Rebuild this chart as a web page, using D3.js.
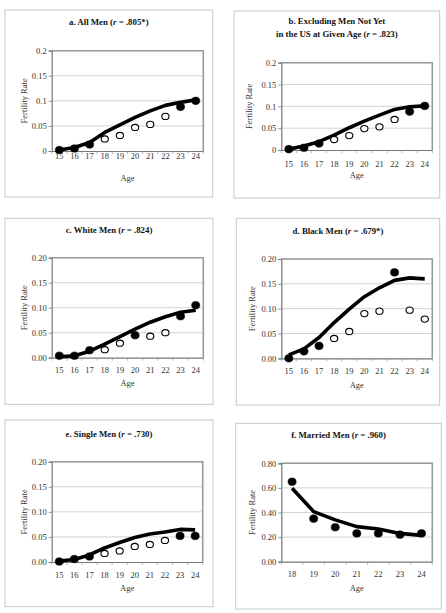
<!DOCTYPE html>
<html><head><meta charset="utf-8">
<script src="https://cdn.jsdelivr.net/npm/d3@7"></script>
<style>
body{margin:0;background:#fff;}
text{font-family:"Liberation Serif","DejaVu Serif",serif;}
</style></head>
<body><svg id="c" width="446" height="613"></svg>
<script>
// ---------- DATA ----------
const agesYoung = [15,16,17,18,19,20,21,22,23,24];
const agesMarried = [18,19,20,21,22,23,24];

const titles = [
  ["a. All Men (r = .805*)"],
  ["b. Excluding  Men Not Yet","in the US at Given Age (r = .823)"],
  ["c. White Men (r = .824)"],
  ["d. Black Men (r = .679*)"],
  ["e. Single Men (r = .730)"],
  ["f. Married Men (r = .960)"]
];

// fitted (line) values
const fitA = [0.002,0.007,0.017,0.037,0.052,0.067,0.080,0.091,0.097,0.102];
const fitB = [0.002,0.009,0.019,0.034,0.051,0.066,0.080,0.093,0.099,0.101];
const fitC = [0.002,0.004,0.013,0.027,0.042,0.057,0.071,0.082,0.091,0.095];
const fitD = [0.007,0.019,0.042,0.072,0.099,0.124,0.142,0.157,0.162,0.160];
const fitE = [0.002,0.005,0.014,0.028,0.039,0.049,0.056,0.060,0.065,0.064];
const fitF = [0.597,0.407,0.340,0.285,0.266,0.230,0.214];

// observed (point) values
const obsA = [0.002,0.005,0.013,0.024,0.031,0.047,0.053,0.069,0.088,0.100];
const obsB = [0.002,0.005,0.015,0.024,0.033,0.049,0.053,0.070,0.088,0.101];
const obsC = [0.004,0.004,0.015,0.016,0.029,0.045,0.043,0.050,0.083,0.105];
const obsD = [0.000,0.014,0.025,0.040,0.054,0.090,0.095,0.173,0.097,0.079];
const obsE = [0.001,0.006,0.011,0.017,0.022,0.031,0.035,0.043,0.052,0.052];
const obsF = [0.650,0.350,0.280,0.230,0.230,0.220,0.230];

// filled (1) vs hollow (0) markers
const fillA = [1,1,1,0,0,0,0,0,1,1];
const fillB = [1,1,1,0,0,0,0,0,1,1];
const fillC = [1,1,1,0,0,1,0,0,1,1];
const fillD = [1,1,1,0,0,0,0,1,0,0];
const fillE = [1,1,1,0,0,0,0,0,1,1];
const fillF = [1,1,1,1,1,1,1];

const yTicksSmall = [0,0.05,0.1,0.15,0.2];
const yTicksMarried = [0,0.2,0.4,0.6,0.8];
const tickFmtA = ["0","0.05","0.1","0.15","0.2"];
const tickFmtC = ["0.00","0.05","0.10","0.15","0.20"];
const tickFmtF = ["0.00","0.20","0.40","0.60","0.80"];

const xTitle = "Age";
const yTitle = "Fertility Rate";

// ---------- LAYOUT ----------
const layout = [
  {box:[5,10,212.7,197], plot:[51.7,50.7,203.3,151], title:[25], xl:158.5, at:181, yl:27},
  {box:[234,11,439.7,198], plot:[281.3,62.7,432.3,150], title:[23.5,36.5], xl:167, at:178, yl:252},
  {box:[5,218.3,213,404.3], plot:[51.7,257.7,203.3,357.7], title:[232.5], xl:373, at:386, yl:27},
  {box:[236.3,218.3,439.7,405], plot:[281.3,259,432.3,358.3], title:[233.5], xl:374.5, at:388, yl:255},
  {box:[5,420,213,606.7], plot:[51.7,461.7,202.7,562], title:[437], xl:577.5, at:591, yl:27},
  {box:[235.7,423.3,441.3,609], plot:[281.3,463.3,432.3,561.7], title:[437.5], xl:577.5, at:590.5, yl:255}
];

const panels = [
  {ages:agesYoung, fit:fitA, obs:obsA, fill:fillA, ticks:yTicksSmall, fmt:tickFmtA, max:0.2},
  {ages:agesYoung, fit:fitB, obs:obsB, fill:fillB, ticks:yTicksSmall, fmt:tickFmtA, max:0.2},
  {ages:agesYoung, fit:fitC, obs:obsC, fill:fillC, ticks:yTicksSmall, fmt:tickFmtC, max:0.2},
  {ages:agesYoung, fit:fitD, obs:obsD, fill:fillD, ticks:yTicksSmall, fmt:tickFmtC, max:0.2},
  {ages:agesYoung, fit:fitE, obs:obsE, fill:fillE, ticks:yTicksSmall, fmt:tickFmtC, max:0.2},
  {ages:agesMarried, fit:fitF, obs:obsF, fill:fillF, ticks:yTicksMarried, fmt:tickFmtF, max:0.8}
];

const FS = 8.5;
const svg = d3.select("#c");

panels.forEach((p,i)=>{
  const L = layout[i];
  const [bx0,by0,bx1,by1] = L.box;
  const [px0,py0,px1,py1] = L.plot;
  const g = svg.append("g");

  g.append("rect").attr("x",bx0).attr("y",by0).attr("width",bx1-bx0).attr("height",by1-by0)
    .attr("fill","#fff").attr("stroke","#c8c8c8").attr("stroke-width",1);

  const x = d3.scaleBand().domain(p.ages).range([px0,px1]);
  const y = d3.scaleLinear().domain([0,p.max]).range([py1,py0]);
  const cx = d => x(d) + x.bandwidth()/2;

  // gridlines
  g.selectAll(".grid").data(p.ticks.filter(t=>t>0)).enter().append("line")
    .attr("x1",px0).attr("x2",px1).attr("y1",d=>y(d)).attr("y2",d=>y(d))
    .attr("stroke","#c8c8c8").attr("stroke-width",0.8);

  // plot border (top/right)
  g.append("path").attr("d",`M${px0},${py0}H${px1}V${py1}`)
    .attr("fill","none").attr("stroke","#9a9a9a").attr("stroke-width",1.6);

  // y axis
  const ya = d3.axisLeft(y).tickValues(p.ticks).tickFormat((d,k)=>p.fmt[k]).tickSize(3).tickPadding(2);
  const yg = g.append("g").attr("transform",`translate(${px0},0)`).call(ya);
  // x axis
  const xa = d3.axisBottom(x).tickSize(0).tickPadding(5);
  const xg = g.append("g").attr("transform",`translate(0,${py1})`).call(xa);
  // category boundary ticks
  const bounds = p.ages.map(a=>x(a)).concat([px1]);
  g.selectAll(".xt").data(bounds).enter().append("line")
    .attr("x1",d=>d).attr("x2",d=>d).attr("y1",py1).attr("y2",py1+3)
    .attr("stroke","#999").attr("stroke-width",0.7);

  [yg,xg].forEach(a=>{
    a.select(".domain").attr("stroke","#777").attr("stroke-width",1.2);
    a.selectAll(".tick line").attr("stroke","#777").attr("stroke-width",0.8);
    a.selectAll("text").attr("font-family",'"Liberation Serif",serif').attr("font-size",FS).attr("fill","#333");
  });
  xg.selectAll(".tick text").attr("dy","0").attr("y", L.xl - py1);

  // axis titles
  g.append("text").attr("x",(px0+px1)/2).attr("y",L.at).attr("text-anchor","middle")
    .attr("font-size",FS).attr("fill","#333").text(xTitle);
  g.append("text").attr("transform",`translate(${L.yl},${(py0+py1)/2}) rotate(-90)`)
    .attr("text-anchor","middle").attr("font-size",FS).attr("fill","#333").text(yTitle);

  // chart title
  const tcx = (bx0+bx1)/2;
  titles[i].forEach((line,k)=>{
    const t = g.append("text").attr("x",tcx).attr("y",L.title[k]).attr("text-anchor","middle")
      .attr("font-size",8.8).attr("font-weight","bold").attr("fill","#111");
    const m = line.match(/^(.*\()r( = .*)$/);
    if(m){
      t.append("tspan").text(m[1]);
      t.append("tspan").attr("font-style","italic").text("r");
      t.append("tspan").text(m[2]);
    } else t.text(line);
  });

  // fitted line
  const line = d3.line().x((d,k)=>cx(p.ages[k])).y(d=>y(d)).curve(d3.curveLinear);
  g.append("path").datum(p.fit).attr("d",line).attr("fill","none")
    .attr("stroke","#000").attr("stroke-width",3.6).attr("stroke-linejoin","round");

  // observed points
  g.selectAll(".pt").data(p.obs).enter().append("ellipse")
    .attr("cx",(d,k)=>cx(p.ages[k])).attr("cy",d=>y(d))
    .attr("rx",(d,k)=>p.fill[k]?4.1:3.6).attr("ry",(d,k)=>p.fill[k]?3.8:3.1)
    .attr("fill",(d,k)=>p.fill[k]?"#000":"#fff")
    .attr("stroke","#000").attr("stroke-width",(d,k)=>p.fill[k]?0.5:1.1);
});
</script>
</body></html>
